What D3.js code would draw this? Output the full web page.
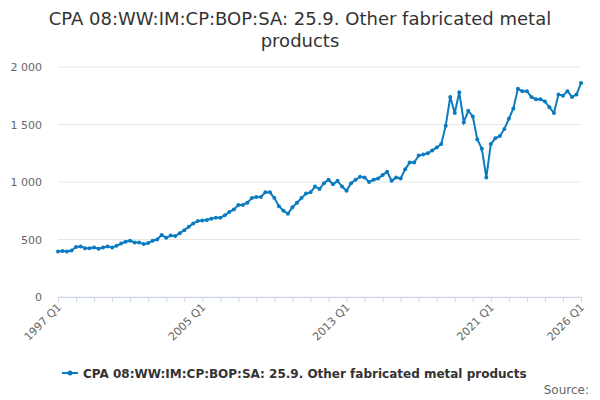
<!DOCTYPE html>
<html>
<head>
<script src="https://cdn.jsdelivr.net/npm/d3@7"></script>
<style>
body { margin: 0; font-family: "DejaVu Sans", sans-serif; }
</style>
</head>
<body>
<svg id="chart" width="600" height="400"></svg>
<script>
var seriesName = 'CPA 08:WW:IM:CP:BOP:SA: 25.9. Other fabricated metal products';
var values = [
  395,400,395,405, 435,440,425,425, 430,420,430,440, 430,445,465,480,
  490,475,475,460, 470,490,500,540, 515,535,530,555, 580,610,640,660,
  665,670,680,690, 690,710,740,760, 800,800,820,860, 870,870,910,910,
  860,790,750,725, 780,820,860,900, 910,960,940,990, 1020,980,1010,960,
  925,990,1020,1045, 1040,1000,1020,1030, 1060,1090,1010,1040, 1030,1110,1170,1170,
  1230,1240,1250,1275, 1300,1330,1490,1740, 1600,1780,1520,1620, 1570,1370,1290,1040,
  1330,1380,1400,1460, 1550,1640,1810,1790, 1790,1740,1720,1720, 1700,1650,1600,1760,
  1750,1790,1740,1760, 1860
];
var labels = values.map(function (v, i) { return (1997 + Math.floor(i / 4)) + ' Q' + (i % 4 + 1); });
var tickLabels = ['1997 Q1', '2005 Q1', '2013 Q1', '2021 Q1', '2026 Q1'];
var yTicks = [0, 500, 1000, 1500, 2000];

var svg = d3.select('#chart');
var x = d3.scalePoint().domain(labels).range([58, 581]);
var y = d3.scaleLinear().domain([0, 2000]).range([297, 67]);

svg.append('text').attr('x', 300).attr('y', 25).attr('text-anchor', 'middle')
  .attr('font-size', 18).attr('fill', '#333').text('CPA 08:WW:IM:CP:BOP:SA: 25.9. Other fabricated metal');
svg.append('text').attr('x', 300).attr('y', 47).attr('text-anchor', 'middle')
  .attr('font-size', 18).attr('fill', '#333').text('products');

var fmt = function (d) { return d3.format(',')(d).replace(',', '\u00a0'); };
svg.selectAll('.grid').data(yTicks).enter().append('line')
  .attr('x1', 58).attr('x2', 581).attr('y1', y).attr('y2', y)
  .attr('stroke', '#e6e6e6');
svg.selectAll('.yl').data(yTicks).enter().append('text')
  .attr('x', 42).attr('y', function (d) { return y(d) + 4; }).attr('text-anchor', 'end')
  .attr('font-size', 11).attr('fill', '#666').text(fmt);

var xAxis = svg.append('g').attr('transform', 'translate(0,297)')
  .call(d3.axisBottom(x).tickValues(labels.filter(function (l) { return l.slice(-2) === 'Q1'; })).tickSize(5).tickFormat(''));
xAxis.select('.domain').attr('stroke', '#ccd6eb');
xAxis.selectAll('line').attr('stroke', '#ccd6eb');
svg.selectAll('.xl').data(tickLabels).enter().append('text')
  .attr('transform', function (d) { return 'translate(' + (x(d) + 4) + ',308) rotate(-45)'; })
  .attr('text-anchor', 'end').attr('font-size', 11).attr('fill', '#666').text(function (d) { return d; });

var line = d3.line().x(function (d, i) { return x(labels[i]); }).y(function (d) { return y(d); });
svg.append('path').datum(values).attr('d', line).attr('fill', 'none')
  .attr('stroke', '#0a7bc1').attr('stroke-width', 2);
svg.selectAll('.pt').data(values).enter().append('circle')
  .attr('cx', function (d, i) { return x(labels[i]); }).attr('cy', y).attr('r', 2)
  .attr('fill', '#0a7bc1');

var lg = svg.append('g').attr('transform', 'translate(62,373)');
lg.append('line').attr('x1', 0).attr('x2', 16).attr('stroke', '#0a7bc1').attr('stroke-width', 2);
lg.append('circle').attr('cx', 8).attr('r', 2.5).attr('fill', '#0a7bc1');
lg.append('text').attr('x', 21).attr('y', 5).attr('font-size', 12).attr('font-weight', 'bold')
  .attr('fill', '#333').text(seriesName);
svg.append('text').attr('x', 589).attr('y', 394).attr('text-anchor', 'end')
  .attr('font-size', 12).attr('fill', '#666').text('Source:');
</script>
</body>
</html>
